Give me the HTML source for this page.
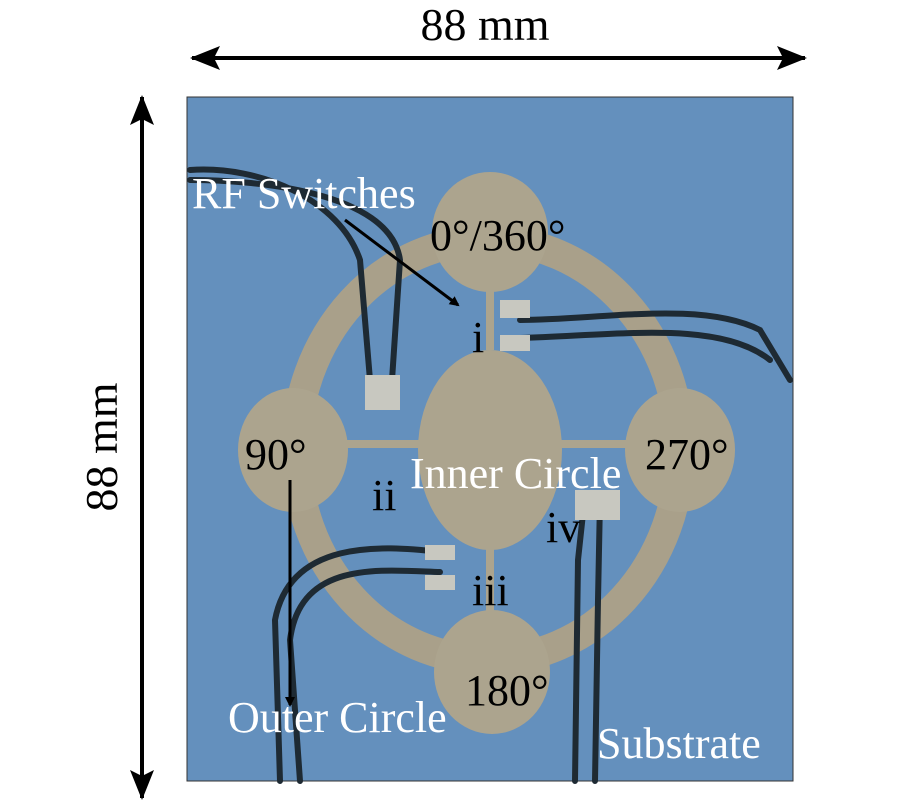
<!DOCTYPE html>
<html><head><style>body{margin:0;background:#fff}svg{display:block}</style></head><body>
<svg width="900" height="800" viewBox="0 0 900 800" xmlns="http://www.w3.org/2000/svg" font-family="Liberation Serif, serif">
<defs>
<marker id="ah" markerWidth="10" markerHeight="10" refX="8" refY="5" orient="auto" markerUnits="userSpaceOnUse"><path d="M0,0 L10,5 L0,10 z" fill="#000"/></marker>
<marker id="bh" markerWidth="30" markerHeight="24" refX="28" refY="12" orient="auto" markerUnits="userSpaceOnUse"><path d="M0,0 L30,12 L0,24 L6,12 z" fill="#000"/></marker>
<marker id="bs" markerWidth="30" markerHeight="24" refX="2" refY="12" orient="auto" markerUnits="userSpaceOnUse"><path d="M30,0 L0,12 L30,24 L24,12 z" fill="#000"/></marker>
</defs>
<rect x="187" y="97" width="606" height="684" fill="#6490bd" stroke="#333"/>
<g fill="none" stroke="#a9a08a">
<ellipse cx="488" cy="450" rx="192" ry="210" stroke-width="30"/>
</g>
<g fill="#aca48e">
<ellipse cx="490" cy="232" rx="58" ry="60"/>
<ellipse cx="293" cy="450" rx="55" ry="62"/>
<ellipse cx="680" cy="450" rx="55" ry="62"/>
<ellipse cx="492" cy="672" rx="58" ry="62"/>
<ellipse cx="490" cy="450" rx="72" ry="100"/>
<rect x="340" y="440" width="80" height="8"/>
<rect x="560" y="440" width="80" height="8"/>
<rect x="486" y="290" width="8" height="60"/>
<rect x="486" y="545" width="8" height="70"/>
</g>
<g fill="none" stroke="#1e2a33" stroke-width="6" stroke-linecap="round">
<path d="M190,170 C260,165 340,200 360,260 L370,380"/>
<path d="M190,180 C250,180 390,190 400,260 L392,380"/>
<path d="M520,320 C600,320 700,300 760,330 L790,380"/>
<path d="M520,338 C620,335 720,320 770,360"/>
<path d="M440,552 C380,545 290,540 275,620 L280,781"/>
<path d="M440,572 C380,570 300,560 290,640 L300,781"/>
<path d="M585,495 L578,560 L575,781"/>
<path d="M600,500 L598,600 L595,781"/>
</g>
<g fill="#c8c8c0">
<rect x="500" y="300" width="30" height="18"/><rect x="500" y="335" width="30" height="16"/>
<rect x="365" y="375" width="35" height="35"/>
<rect x="425" y="545" width="30" height="15"/><rect x="425" y="575" width="30" height="15"/>
<rect x="575" y="490" width="45" height="30"/>
</g>
<line x1="345" y1="220" x2="458" y2="305" stroke="#000" stroke-width="3" marker-end="url(#ah)"/>
<line x1="290" y1="480" x2="290" y2="705" stroke="#000" stroke-width="3" marker-end="url(#ah)"/>
<line x1="192" y1="58" x2="805" y2="58" stroke="#000" stroke-width="4" marker-start="url(#bs)" marker-end="url(#bh)"/>
<line x1="142" y1="97" x2="142" y2="798" stroke="#000" stroke-width="4" marker-start="url(#bs)" marker-end="url(#bh)"/>
<text x="485" y="40" font-size="46" text-anchor="middle">88 mm</text>
<text transform="translate(117,447) rotate(-90)" font-size="46" text-anchor="middle">88 mm</text>
<g font-size="44">
<text x="192" y="208" fill="#fff">RF Switches</text>
<text x="430" y="250" fill="#000">0°/360°</text>
<text x="472" y="352" fill="#000">i</text>
<text x="245" y="469" fill="#000">90°</text>
<text x="372" y="510" fill="#000">ii</text>
<text x="410" y="488" fill="#fff">Inner Circle</text>
<text x="645" y="469" fill="#000">270°</text>
<text x="546" y="542" fill="#000">iv</text>
<text x="472" y="605" fill="#000">iii</text>
<text x="465" y="705" fill="#000">180°</text>
<text x="228" y="732" fill="#fff">Outer Circle</text>
<text x="597" y="758" fill="#fff">Substrate</text>
</g>
</svg>
</body></html>
